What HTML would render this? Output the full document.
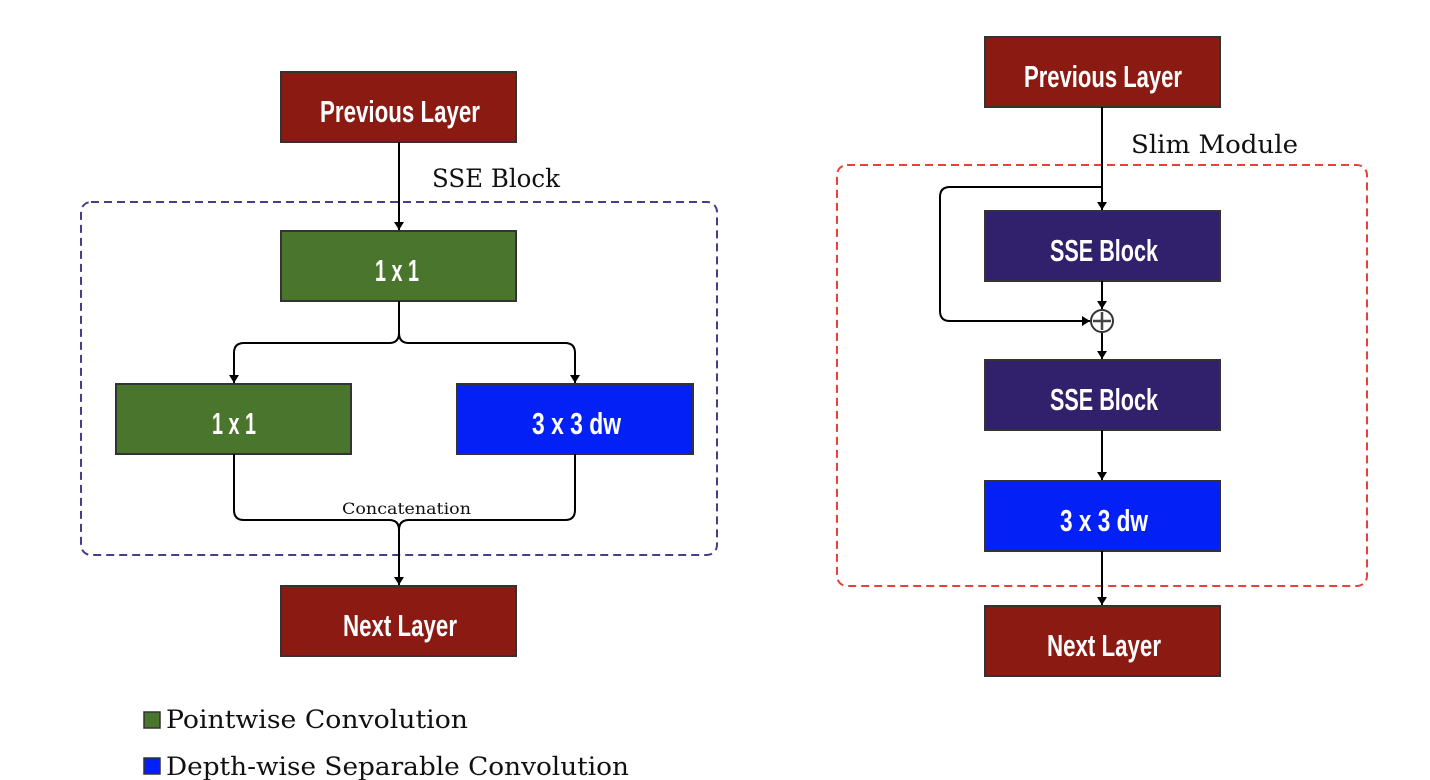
<!DOCTYPE html>
<html><head><meta charset="utf-8"><style>html,body{margin:0;padding:0;background:#fff}svg{display:block}</style></head>
<body>
<svg width="1430" height="780" viewBox="0 0 1430 780" xmlns="http://www.w3.org/2000/svg">
<defs><marker id="a" markerWidth="9" markerHeight="10" refX="8" refY="5" orient="auto" markerUnits="userSpaceOnUse"><path d="M0,0 L8,5 L0,10 z" fill="#000"/></marker></defs>
<g stroke="#333" stroke-width="2">
<rect x="281" y="72" width="235" height="70" fill="#8b1a12"/>
<rect x="281" y="231" width="235" height="70" fill="#4a752c"/>
<rect x="116" y="384" width="235" height="70" fill="#4a752c"/>
<rect x="457" y="384" width="236" height="70" fill="#0320f6"/>
<rect x="281" y="586" width="235" height="70" fill="#8b1a12"/>
<rect x="985" y="37" width="235" height="70" fill="#8b1a12"/>
<rect x="985" y="211" width="235" height="70" fill="#31206b"/>
<rect x="985" y="360" width="235" height="70" fill="#31206b"/>
<rect x="985" y="481" width="235" height="70" fill="#0320f6"/>
<rect x="985" y="606" width="235" height="70" fill="#8b1a12"/>
</g>
<g font-family="Liberation Sans Narrow, Liberation Sans, sans-serif" font-size="31" font-weight="bold" fill="#fff">
<text x="320" y="122" textLength="160" lengthAdjust="spacingAndGlyphs">Previous Layer</text>
<text x="375" y="281" textLength="44" lengthAdjust="spacingAndGlyphs">1 x 1</text>
<text x="212" y="434" textLength="44" lengthAdjust="spacingAndGlyphs">1 x 1</text>
<text x="532" y="434" textLength="89" lengthAdjust="spacingAndGlyphs">3 x 3 dw</text>
<text x="343" y="636" textLength="114" lengthAdjust="spacingAndGlyphs">Next Layer</text>
<text x="1024" y="87" textLength="158" lengthAdjust="spacingAndGlyphs">Previous Layer</text>
<text x="1050" y="261" textLength="108" lengthAdjust="spacingAndGlyphs">SSE Block</text>
<text x="1050" y="410" textLength="108" lengthAdjust="spacingAndGlyphs">SSE Block</text>
<text x="1060" y="531" textLength="88" lengthAdjust="spacingAndGlyphs">3 x 3 dw</text>
<text x="1047" y="656" textLength="114" lengthAdjust="spacingAndGlyphs">Next Layer</text>
</g>
<rect x="81" y="202" width="636" height="353" rx="10" fill="none" stroke="#4a3c8a" stroke-width="2" stroke-dasharray="8,5"/>
<rect x="837" y="165" width="530" height="421" rx="10" fill="none" stroke="#e8413a" stroke-width="2" stroke-dasharray="8,5"/>
<g fill="none" stroke="#000" stroke-width="2">
<path d="M399,142 V230" marker-end="url(#a)"/>
<path d="M399,301 V333 Q399,343 389,343 H244 Q234,343 234,353 V383" marker-end="url(#a)"/>
<path d="M399,333 Q399,343 409,343 H565 Q575,343 575,353 V383" marker-end="url(#a)"/>
<path d="M234,454 V510 Q234,520 244,520 H389 Q399,520 399,530 V585" marker-end="url(#a)"/>
<path d="M575,454 V510 Q575,520 565,520 H409 Q399,520 399,530"/>
<path d="M1102,107 V210" marker-end="url(#a)"/>
<path d="M1102,187 H950 Q940,187 940,197 V311 Q940,321 950,321 H1090" marker-end="url(#a)"/>
<path d="M1102,281 V309" marker-end="url(#a)"/>
<path d="M1102,333 V359" marker-end="url(#a)"/>
<path d="M1102,430 V480" marker-end="url(#a)"/>
<path d="M1102,551 V605" marker-end="url(#a)"/>
<circle cx="1102" cy="321" r="11" stroke="#333"/>
<path d="M1102,312 V330 M1093,321 H1111" stroke="#444" stroke-width="2.5"/>
</g>
<g font-family="DejaVu Serif, Liberation Serif, serif" fill="#111">
<text x="432" y="187" font-size="25" textLength="128" lengthAdjust="spacingAndGlyphs">SSE Block</text>
<text x="1131" y="153" font-size="25" textLength="167" lengthAdjust="spacingAndGlyphs">Slim Module</text>
<text x="342" y="514" font-size="16" textLength="129" lengthAdjust="spacingAndGlyphs">Concatenation</text>
<text x="166" y="728" font-size="25" textLength="302" lengthAdjust="spacingAndGlyphs">Pointwise Convolution</text>
<text x="166" y="775" font-size="25" textLength="463" lengthAdjust="spacingAndGlyphs">Depth-wise Separable Convolution</text>
</g>
<rect x="144" y="712" width="16" height="16" fill="#4a752c" stroke="#333" stroke-width="1.5"/>
<rect x="144" y="758" width="16" height="16" fill="#0320f6" stroke="#333" stroke-width="1.5"/>
</svg>
</body></html>
